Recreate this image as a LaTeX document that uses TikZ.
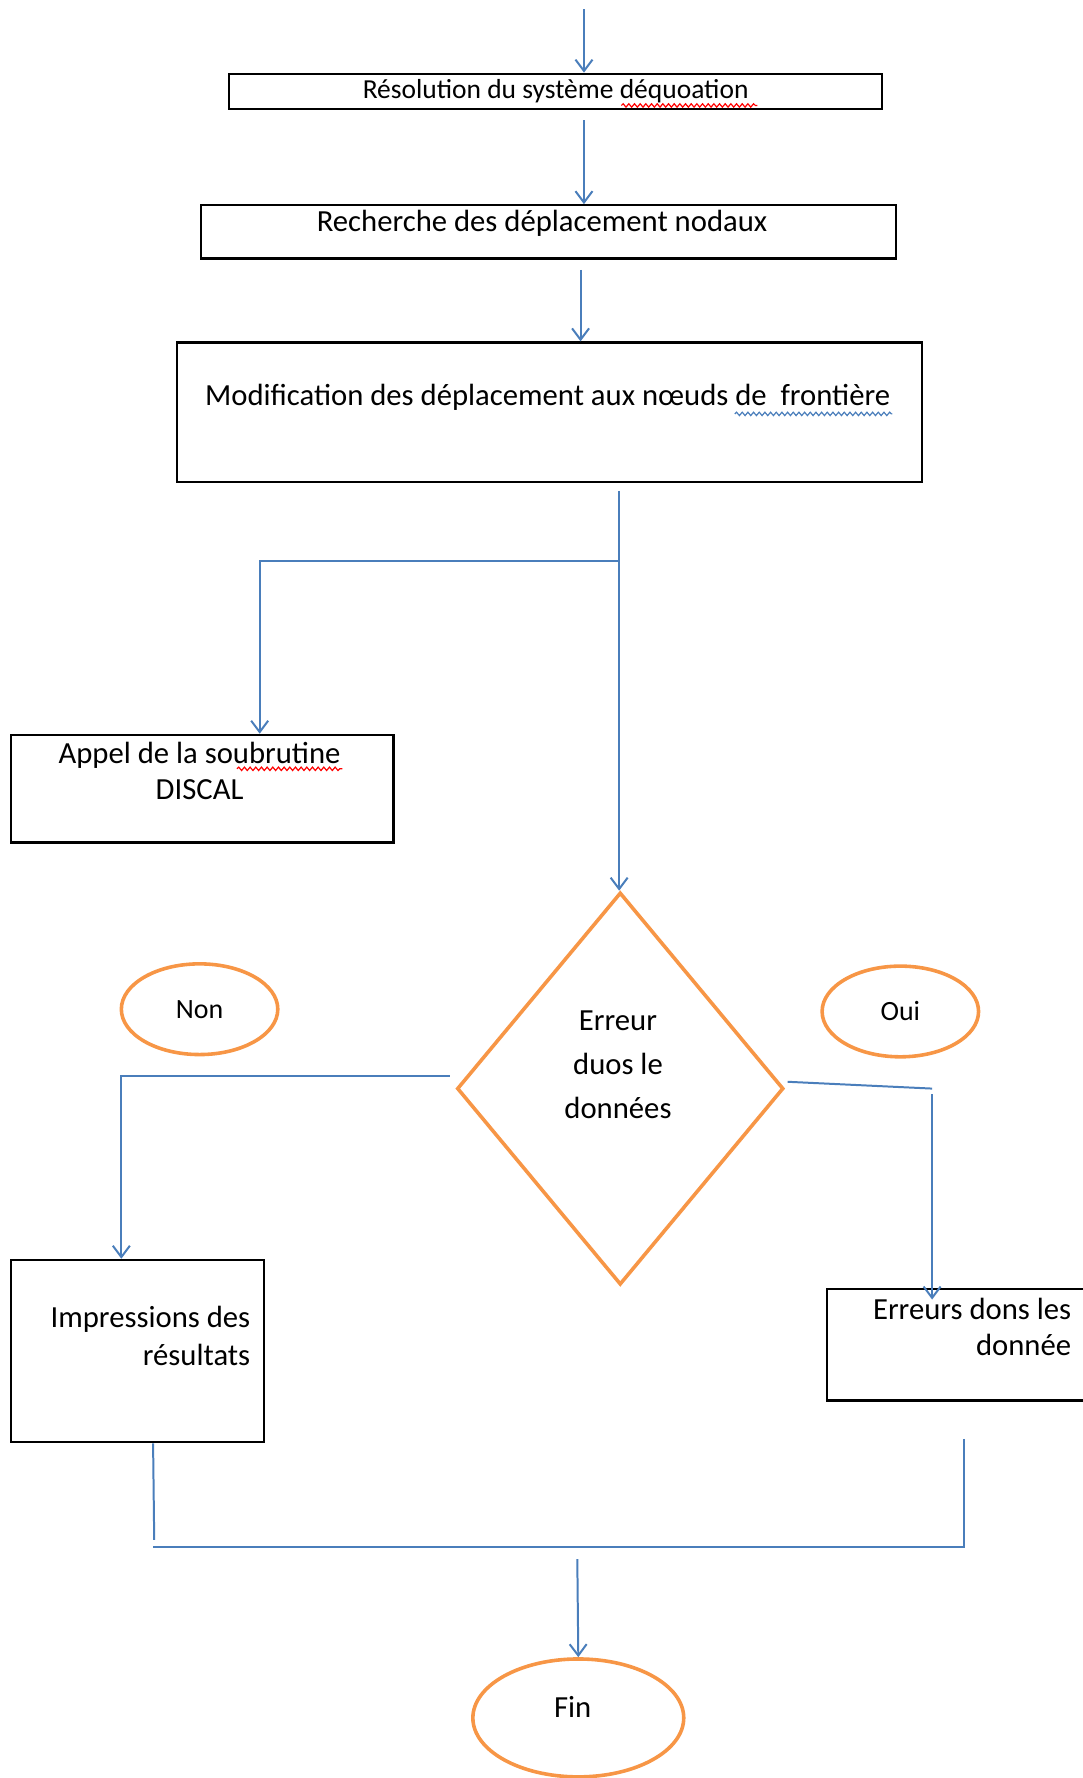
\documentclass[tikz,border=0pt]{standalone}
\usepackage{fontspec}
\setmainfont{Carlito}
\usetikzlibrary{shapes.geometric,arrows.meta,decorations.pathmorphing}
\definecolor{bleu}{RGB}{74,126,187}
\definecolor{orangeW}{RGB}{247,150,70}

\tikzset{
  boite/.style={draw=black, line width=1.1pt, inner sep=0pt},
  fleche/.style={draw=bleu, line width=1pt, -{Straight Barb[length=0.2cm,width=0.3cm]}},
  ligne/.style={draw=bleu, line width=1pt},
  rond/.style={ellipse, draw=orangeW, line width=1.8pt, inner sep=0pt},
  texte/.style={font=\fontsize{15.4}{18.8}\selectfont, align=center, inner sep=0pt},
  vague/.style={decorate, decoration={snake, segment length=0.1cm, amplitude=0.03cm}, line width=0.6pt}
}

\begin{document}
\begin{tikzpicture}[x=0.02cm,y=-0.02cm]
        \clip (0,0) rectangle (955,1568);

        % 方框
        \node[boite, minimum width=11.52cm, minimum height=0.62cm] (resol) at (490,80.5) {};
        \node[boite, minimum width=12.26cm, minimum height=0.94cm] (recherche) at (483.5,204.5) {};
        \node[boite, minimum width=13.14cm, minimum height=2.46cm] (modif) at (484.5,363.5) {};
        \node[boite, minimum width=6.74cm, minimum height=1.9cm] (appel) at (178.5,695.5) {};
        \node[boite, minimum width=4.46cm, minimum height=3.22cm] (impr) at (121.5,1191.5) {};
        \node[boite, minimum width=4.82cm, minimum height=1.96cm] (erreurs) at (849.5,1186) {};

        % 菱形和椭圆
        \node[diamond, draw=orangeW, line width=1.8pt, inner sep=0pt,
              minimum width=5.76cm, minimum height=6.92cm] (losange) at (547,960) {};
        \node[rond, minimum width=2.76cm, minimum height=1.6cm,
              font=\fontsize{14}{17}\selectfont] (non) at (176,890) {Non};
        \node[rond, minimum width=2.76cm, minimum height=1.6cm,
              font=\fontsize{14}{17}\selectfont] (oui) at (794,892) {Oui};
        \node[rond, minimum width=3.72cm, minimum height=2.08cm] (fin) at (510,1515) {};
        \node[texte] (finT) at (505,1505) {Fin};

        % 文字
        \node[texte, font=\fontsize{13.8}{17}\selectfont] (resolT) at (490,80) {Résolution du système déquoation};
        \node[texte] (rechercheT) at (478,197) {Recherche des déplacement nodaux};
        \node[texte] (modifT) at (483,350) {Modification des déplacement aux nœuds de\ \ frontière};
        \node[texte, font=\fontsize{15.4}{18.2}\selectfont] (appelT) at (176,680) {Appel de la soubrutine\\DISCAL};
        \node[texte, font=\fontsize{15.4}{21.9}\selectfont] (question) at (545,939) {Erreur\\duos le\\données};
        \node[texte, align=right, anchor=east, font=\fontsize{15.4}{19.3}\selectfont] (imprT) at (221,1178) {Impressions des\\résultats};
        \node[texte, align=right, anchor=east, font=\fontsize{15.4}{18.2}\selectfont] (erreursT) at (945,1170) {Erreurs dons les\\donnée};

        % 拼写检查波浪线
        \draw[vague, red] (548,93) -- (668,93);
        \draw[vague, red] (209,678) -- (302,678);
        \draw[vague, bleu] (648,365) -- (787,365);

        % 箭头
        \coordinate (debut) at (515,8);
        \draw[fleche] (debut) -- (debut |- resol.north);
        \draw[fleche, shorten <=0.18cm] (resol.south -| debut) -- (recherche.north -| debut);
        \draw[fleche, shorten <=0.18cm] ([xshift=-0.06cm]recherche.south -| debut) -- ([xshift=-0.06cm]modif.north -| debut);

        \coordinate (embr) at (546,495);
        \draw[fleche, shorten <=0.14cm] (modif.south -| embr) -- (embr |- losange.north);
        \draw[fleche] (embr) -| ([xshift=1.01cm]appel.north);

        \draw[fleche] ([xshift=-0.1cm,yshift=0.22cm]losange.west) -| ([xshift=-0.29cm]impr.north);
        \coordinate (coinD) at (822,960);
        \draw[ligne] ([xshift=0.04cm,yshift=0.12cm]losange.east) -- (coinD);
        \draw[fleche, shorten >=-0.2cm] ([yshift=-0.1cm]coinD) -- (coinD |- erreurs.north);

        \coordinate (jonction) at (509,1364);
        \draw[ligne] ([xshift=0.27cm]impr.south) -- ++(1,85);
        \draw[ligne] ([xshift=0.01cm,yshift=-0.66cm]erreurs.south) |- ([xshift=0.27cm]impr.south |- jonction);
        \draw[fleche, shorten <=0.22cm] (jonction) -- (fin.north);
    \end{tikzpicture}
\end{document}
